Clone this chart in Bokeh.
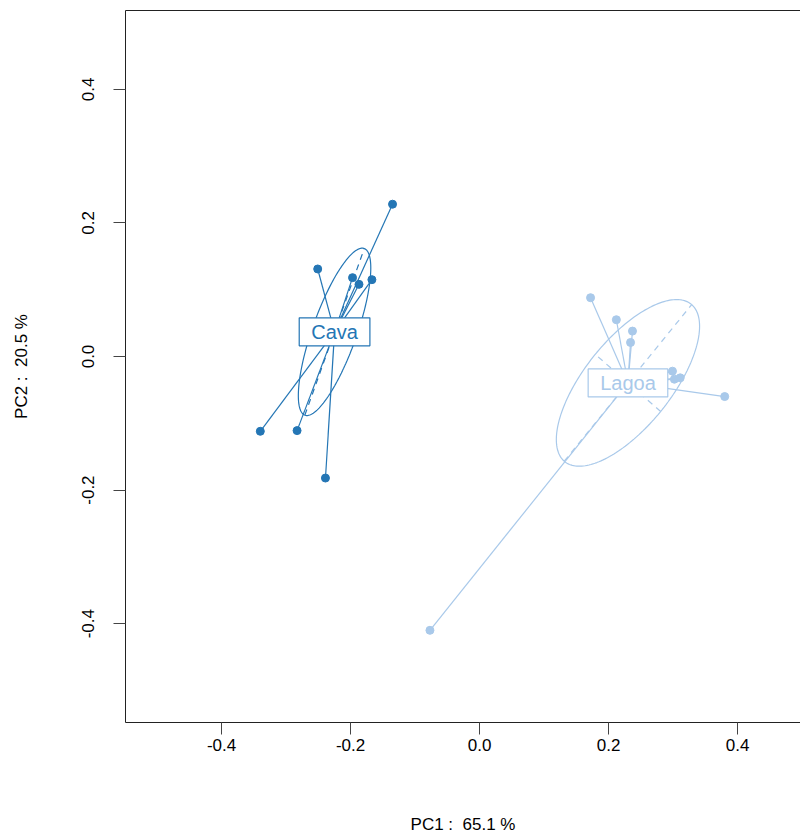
import numpy as np
from bokeh.plotting import figure
from bokeh.models import Range1d, FixedTicker, PrintfTickFormatter, LinearAxis, Label
from bokeh.embed import file_html
from bokeh.resources import INLINE

# PCA scores for each site (PC1, PC2)
cava_pc1 = [-0.135, -0.251, -0.197, -0.187, -0.167, -0.340, -0.283, -0.239]
cava_pc2 = [0.228, 0.131, 0.118, 0.108, 0.115, -0.112, -0.111, -0.182]
lagoa_pc1 = [0.172, 0.212, 0.237, 0.234, 0.299, 0.311, 0.302, 0.380, -0.077]
lagoa_pc2 = [0.088, 0.055, 0.038, 0.021, -0.022, -0.032, -0.034, -0.060, -0.410]

groups = ["Cava", "Lagoa"]
colors = ["#2476b5", "#a9c9ea"]
ticks = [-0.4, -0.2, 0.0, 0.2, 0.4]
x_title = "PC1 :\u00a0 65.1 %"
y_title = "PC2 :\u00a0 20.5 %"

ELLIPSE_SCALE = 0.9
FONT = "Liberation Sans"

p = figure(width=800, height=837, output_backend="svg", toolbar_location=None,
           x_range=Range1d(-0.549, 0.4975), y_range=Range1d(-0.548, 0.518),
           min_border_left=125, min_border_right=0, min_border_top=10,
           min_border_bottom=115)
p.grid.visible = False
p.outline_line_color = None
p.background_fill_color = "white"
p.border_fill_color = "white"

for ax in (p.xaxis[0], p.yaxis[0]):
    ax.ticker = FixedTicker(ticks=ticks)
    ax.formatter = PrintfTickFormatter(format="%.1f")
    ax.minor_tick_line_color = None
    ax.major_tick_in = 0
    ax.major_tick_out = 12
    ax.axis_line_color = "#222222"
    ax.major_tick_line_color = "#444444"
    ax.major_label_text_font = FONT
    ax.major_label_text_font_size = "17px"
    ax.major_label_text_color = "black"
    ax.axis_label_text_font = FONT
    ax.axis_label_text_font_size = "17px"
    ax.axis_label_text_font_style = "normal"
    ax.axis_label_text_color = "black"

p.xaxis[0].axis_label = x_title
p.xaxis[0].major_label_standoff = 4
p.xaxis[0].axis_label_standoff = 61
p.yaxis[0].axis_label = y_title
p.yaxis[0].major_label_orientation = "parallel"
p.yaxis[0].major_label_standoff = 19
p.yaxis[0].axis_label_standoff = 49

# top border of the plotting box
top = LinearAxis(ticker=FixedTicker(ticks=[]), major_label_text_font_size="0px",
                 major_tick_out=0, minor_tick_out=0, axis_line_color="#222222")
p.add_layout(top, "above")

t = np.linspace(0, 2 * np.pi, 200)
for name, xs, ys, col in [("Cava", cava_pc1, cava_pc2, colors[0]),
                          ("Lagoa", lagoa_pc1, lagoa_pc2, colors[1])]:
    xs = np.asarray(xs)
    ys = np.asarray(ys)
    mx, my = xs.mean(), ys.mean()
    cov = np.cov(np.vstack([xs, ys]), bias=True)
    vals, vecs = np.linalg.eigh(cov)
    a = ELLIPSE_SCALE * np.sqrt(vals[1])
    b = ELLIPSE_SCALE * np.sqrt(vals[0])
    v1 = vecs[:, 1]
    v2 = vecs[:, 0]
    ex = mx + a * np.cos(t) * v1[0] + b * np.sin(t) * v2[0]
    ey = my + a * np.cos(t) * v1[1] + b * np.sin(t) * v2[1]
    p.line(ex, ey, line_color=col, line_width=1.2)
    # ellipse axes
    p.segment(x0=[mx - a * v1[0], mx - b * v2[0]], y0=[my - a * v1[1], my - b * v2[1]],
              x1=[mx + a * v1[0], mx + b * v2[0]], y1=[my + a * v1[1], my + b * v2[1]],
              line_color=col, line_width=1.2, line_dash="6 5")
    # spokes from group centre to each sample
    p.segment(x0=[mx] * len(xs), y0=[my] * len(ys), x1=xs, y1=ys,
              line_color=col, line_width=1.2)
    p.scatter(xs, ys, size=8, fill_color=col, line_color=col)
    p.add_layout(Label(x=mx, y=my, text=name, text_align="center", text_baseline="middle",
                       text_font=FONT, text_font_size="20px", text_color=col,
                       background_fill_color="white", border_line_color=col,
                       border_line_width=1.2, padding=(12, 3)))

open("out.html", "w").write(file_html(p, INLINE))
